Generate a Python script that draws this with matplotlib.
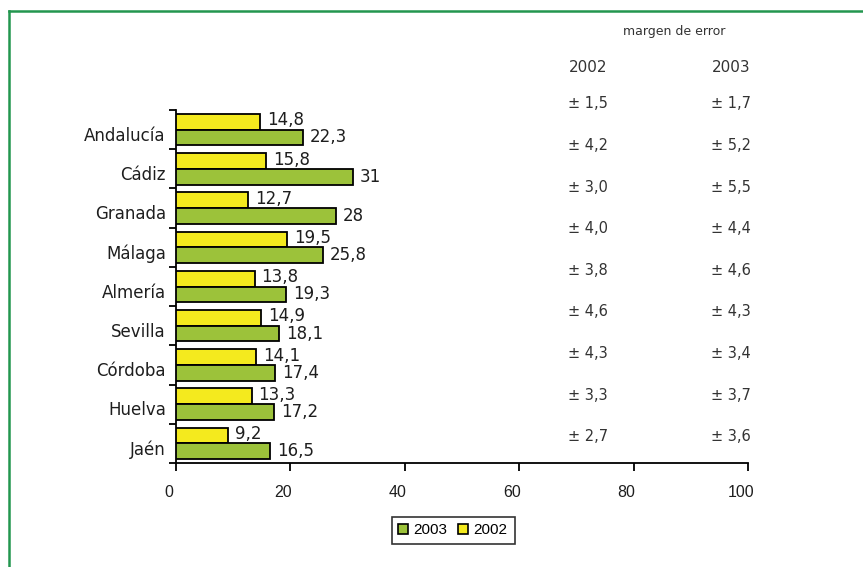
import matplotlib
matplotlib.use("Agg")
import matplotlib.pyplot as plt
import numpy as np
from matplotlib.patches import Patch
from matplotlib.lines import Line2D
from matplotlib.transforms import ScaledTranslation

# Data
provincias = ["Andalucía", "Cádiz", "Granada", "Málaga", "Almería",
              "Sevilla", "Córdoba", "Huelva", "Jaén"]
valores_2002 = [14.8, 15.8, 12.7, 19.5, 13.8, 14.9, 14.1, 13.3, 9.2]
valores_2003 = [22.3, 31, 28, 25.8, 19.3, 18.1, 17.4, 17.2, 16.5]
margen_2002 = ["± 1,5", "± 4,2", "± 3,0", "± 4,0", "± 3,8", "± 4,6", "± 4,3", "± 3,3", "± 2,7"]
margen_2003 = ["± 1,7", "± 5,2", "± 5,5", "± 4,4", "± 4,6", "± 4,3", "± 3,4", "± 3,7", "± 3,6"]
x_ticks = [0, 20, 40, 60, 80, 100]

AMARILLO = "#f4ea1e"
VERDE = "#9cc23a"
TEXTO = "#1e1e1e"

fig = plt.figure(figsize=(8.63, 5.67), dpi=100)
W, H = 863, 567

# green frame (top and left edges)
fig.add_artist(Line2D([8.5 / W, 1.0], [1 - 11 / H, 1 - 11 / H], transform=fig.transFigure,
                      color="#23964f", lw=1.8))
fig.add_artist(Line2D([8.5 / W, 8.5 / W], [1 - 11 / H, 0.0], transform=fig.transFigure,
                      color="#23964f", lw=1.8))

left, right, top, bottom = 175.5, 748.0, 110.0, 463.0
ax = fig.add_axes([left / W, 1 - bottom / H, (right - left) / W, (bottom - top) / H])

y = np.arange(len(provincias))
h = 0.4
ax.barh(y - h / 2, valores_2002, height=h, color=AMARILLO, edgecolor="black", linewidth=1.3, zorder=3)
ax.barh(y + h / 2, valores_2003, height=h, color=VERDE, edgecolor="black", linewidth=1.3, zorder=3)

def fmt(v):
    return f"{v:g}".replace(".", ",")

for yi, v in zip(y, valores_2002):
    ax.annotate(fmt(v), (v, yi - h / 2), xytext=(5, 1), textcoords="offset points",
                ha="left", va="center", fontsize=12, color=TEXTO, family="DejaVu Sans")
for yi, v in zip(y, valores_2003):
    ax.annotate(fmt(v), (v, yi + h / 2), xytext=(5, 0), textcoords="offset points",
                ha="left", va="center", fontsize=12, color=TEXTO, family="DejaVu Sans")

ax.set_xlim(0, 100)
ax.set_ylim(len(provincias) - 0.5, -0.5)

# y axis: ticks at group boundaries, names centred on groups
ax.set_yticks(np.arange(len(provincias) + 1) - 0.5)
ax.set_yticklabels([])
ax.set_yticks(y, minor=True)
ax.set_yticklabels(provincias, minor=True, fontsize=12, color=TEXTO, family="DejaVu Sans")
ax.tick_params(axis="y", which="major", length=5, width=1.3, direction="out")
ax.tick_params(axis="y", which="minor", length=0, pad=7)
for lab in ax.get_yticklabels(minor=True):
    lab.set_transform(lab.get_transform() + ScaledTranslation(0, -4 / 100, fig.dpi_scale_trans))

ax.set_xticks(x_ticks)
ax.set_xticklabels([str(t) for t in x_ticks], fontsize=11.5, family="Liberation Sans", color=TEXTO)
ax.tick_params(axis="x", length=6, width=1.3, direction="out", pad=10)
for lab in ax.get_xticklabels():
    lab.set_transform(lab.get_transform() + ScaledTranslation(-7 / 100, 0, fig.dpi_scale_trans))

for s in ["top", "right"]:
    ax.spines[s].set_visible(False)
for s in ["left", "bottom"]:
    ax.spines[s].set_linewidth(1.3)
    ax.spines[s].set_color("black")

# error-margin table
tc = "#333333"
fig.text(674 / W, 1 - 31 / H, "margen de error", ha="center", va="center",
         fontsize=9, color=tc, family="DejaVu Sans")
fig.text(588 / W, 1 - 68 / H, "2002", ha="center", va="center", fontsize=11, color=tc)
fig.text(731 / W, 1 - 68 / H, "2003", ha="center", va="center", fontsize=11, color=tc)
for i, (a, b) in enumerate(zip(margen_2002, margen_2003)):
    yy = 1 - (104 + 41.6 * i) / H
    fig.text(588 / W, yy, a, ha="center", va="center", fontsize=10.5, color=tc)
    fig.text(731 / W, yy, b, ha="center", va="center", fontsize=10.5, color=tc)

# legend
handles = [Patch(facecolor=VERDE, edgecolor="black", linewidth=1.2, label="2003"),
           Patch(facecolor=AMARILLO, edgecolor="black", linewidth=1.2, label="2002")]
leg = fig.legend(handles=handles, loc="center", bbox_to_anchor=(453 / W, 1 - 530.5 / H),
                 ncol=2, frameon=True, fancybox=False, edgecolor="black",
                 prop={"family": "Liberation Sans", "size": 11},
                 handlelength=0.65, handleheight=0.65, handletextpad=0.35,
                 columnspacing=0.7, borderpad=0.45)
leg.get_frame().set_linewidth(1.2)

fig.savefig("out.png", dpi=100)
